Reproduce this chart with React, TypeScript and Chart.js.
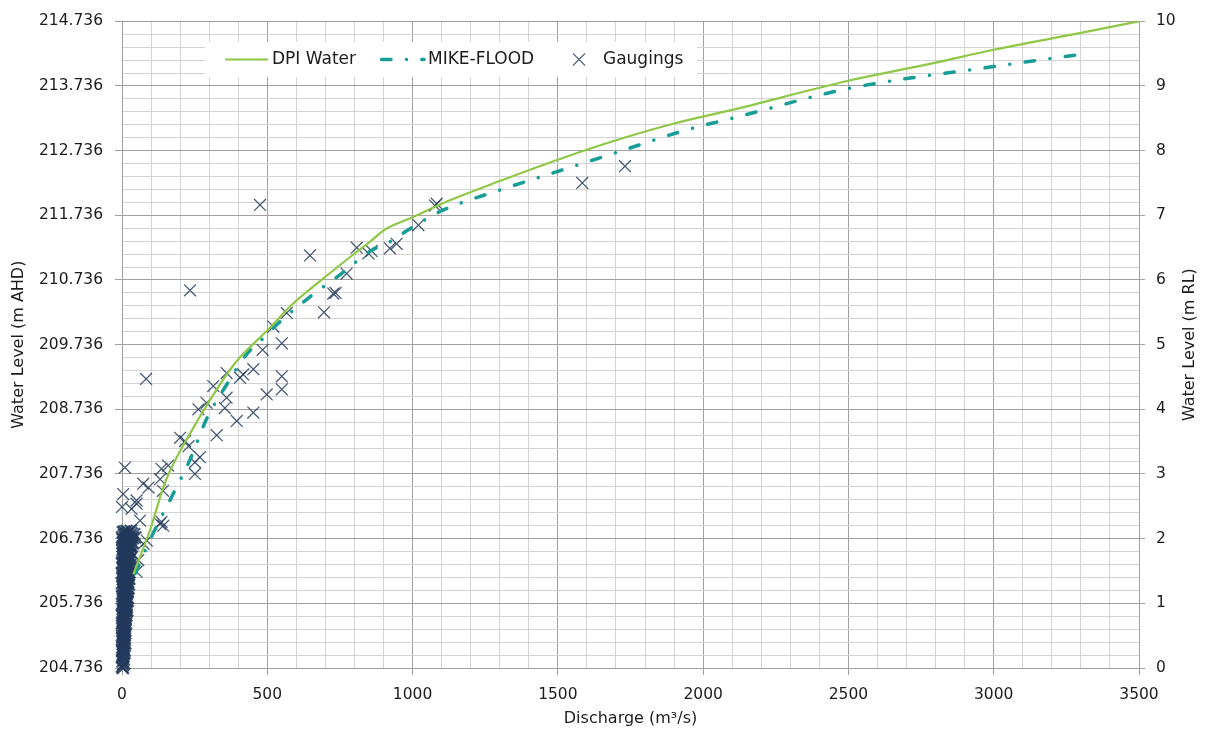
import React, { useEffect, useRef } from 'react';
import { Chart, registerables } from 'chart.js';

Chart.register(...registerables);

// ---- Axis labels ----
const xTickLabels = ['0', '500', '1000', '1500', '2000', '2500', '3000', '3500'];
const leftTickLabels = ['204.736', '205.736', '206.736', '207.736', '208.736', '209.736', '210.736', '211.736', '212.736', '213.736', '214.736'];
const rightTickLabels = ['0', '1', '2', '3', '4', '5', '6', '7', '8', '9', '10'];
const RL_DATUM_AHD = 204.736;

// ---- DPI Water rating curve (discharge m3/s, level m RL) ----
const dpiDischarge = [39, 96, 151, 240, 338, 390, 509, 578, 692, 795, 853, 905, 1000, 1100, 1300, 1500, 1700, 1900, 2100, 2500, 2800, 3000, 3300, 3500];
const dpiLevel = [1.45, 2.13, 2.9, 3.67, 4.39, 4.72, 5.26, 5.59, 6.02, 6.39, 6.59, 6.78, 6.97, 7.18, 7.53, 7.86, 8.16, 8.42, 8.63, 9.08, 9.36, 9.56, 9.82, 10.0];

// ---- MIKE-FLOOD rating curve ----
const mikeDischarge = [45, 108, 177, 234, 291, 360, 429, 486, 538, 647, 750, 859, 922, 980, 1100, 1300, 1500, 1700, 1950, 2100, 2500, 3000, 3300];
const mikeLevel = [1.46, 2.09, 2.7, 3.22, 3.85, 4.38, 4.85, 5.1, 5.33, 5.74, 6.08, 6.46, 6.59, 6.76, 7.07, 7.39, 7.68, 7.97, 8.33, 8.5, 8.96, 9.3, 9.49];

// ---- Gaugings: higher flows ----
const gaugingDischarge = [475, 234, 83, 1584, 1731, 1077, 1083, 1020, 945, 922, 859, 848, 808, 647, 773, 727, 735, 695, 567, 521, 550, 484, 452, 417, 360, 550, 550, 498, 360, 314, 291, 263, 354, 452, 395, 406, 326, 200, 217, 229, 268, 251, 251, 159, 136, 131, 141, 10, 73, 91, 4, 50, 0, 50, 62, 136, 142, 85, 74, 56, 50, 33, 131];
const gaugingLevel = [7.16, 5.84, 4.47, 7.5, 7.76, 7.15, 7.18, 6.85, 6.56, 6.49, 6.45, 6.41, 6.5, 6.38, 6.1, 5.79, 5.8, 5.5, 5.49, 5.28, 5.02, 4.92, 4.62, 4.54, 4.56, 4.51, 4.31, 4.23, 4.18, 4.36, 4.1, 4.0, 4.02, 3.95, 3.82, 4.49, 3.6, 3.56, 3.51, 3.43, 3.26, 3.18, 3.0, 3.13, 3.08, 2.92, 2.74, 3.1, 2.85, 2.79, 2.69, 2.59, 2.49, 2.54, 2.28, 2.26, 2.2, 1.97, 1.92, 1.67, 1.49, 2.46, 2.23];

// ---- Gaugings: low-flow cluster ----
const lowFlowDischarge = [
  0, 4, 2, 6, 1, 8, 3, 5, 1, 9,
  3, 7, 0, 5, 9, 3, 7, 11,
  2, 6, 10, 0, 4, 8, 1, 5, 9, 12, 2, 6,
  1, 5, 11, 3, 8, 13, 9, 14, 0, 6, 11, 3, 8, 15,
  0, 6, 10, 15, 2, 8, 13, 17, 18, 4, 11, 0, 6, 16,
  4, 9, 14, 19, 1, 7, 12, 17, 11, 21, 3, 15, 9, 20, 5,
  3, 8, 13, 18, 22, 0, 5, 11, 16, 21, 24, 14, 1, 10, 19, 25, 4,
  2, 7, 12, 17, 23, 4, 9, 15, 20, 25, 0, 26, 11, 18, 6, 13, 22, 28, 1,
  0, 6, 11, 16, 22, 27, 3, 8, 14, 19, 25, 10, 19, 30, 5, 1, 12, 23, 32, 17, 7,
  1, 6, 12, 17, 23, 30, 4, 9, 15, 21, 27, 36, 3, 14, 26, 34, 19, 10, 2, 24, 31, 38,
  0, 6, 12, 18, 25, 33, 8, 16, 42, 22, 3, 30, 14, 46,
];
const lowFlowLevel = [
  0.02, 0.05, 0.1, 0.13, 0.16, 0.07, 0.0, 0.18, 0.26, 0.27,
  0.21, 0.24, 0.28, 0.31, 0.34, 0.37, 0.39, 0.38,
  0.41, 0.44, 0.46, 0.5, 0.53, 0.56, 0.47, 0.48, 0.51, 0.58, 0.57, 0.59,
  0.61, 0.63, 0.66, 0.71, 0.73, 0.76, 0.64, 0.69, 0.69, 0.7, 0.78, 0.79, 0.79, 0.81,
  0.81, 0.84, 0.82, 0.87, 0.91, 0.93, 0.96, 0.94, 0.89, 0.88, 0.9, 0.99, 0.98, 0.99,
  1.02, 1.0, 1.05, 1.03, 1.11, 1.13, 1.1, 1.15, 1.07, 1.08, 1.07, 1.09, 1.17, 1.18, 1.18,
  1.21, 1.24, 1.2, 1.26, 1.23, 1.31, 1.33, 1.3, 1.35, 1.32, 1.29, 1.28, 1.26, 1.37, 1.39, 1.38, 1.38,
  1.42, 1.44, 1.41, 1.46, 1.43, 1.52, 1.54, 1.51, 1.56, 1.53, 1.47, 1.48, 1.49, 1.5, 1.58, 1.59, 1.6, 1.59, 1.55,
  1.62, 1.64, 1.61, 1.66, 1.63, 1.67, 1.72, 1.74, 1.71, 1.76, 1.73, 1.68, 1.69, 1.7, 1.69, 1.77, 1.79, 1.79, 1.78, 1.8, 1.79,
  1.82, 1.85, 1.81, 1.86, 1.83, 1.87, 1.93, 1.91, 1.95, 1.92, 1.96, 1.94, 1.88, 1.89, 1.9, 1.88, 1.9, 1.98, 1.99, 2.0, 1.99, 2.01,
  2.02, 2.05, 2.01, 2.06, 2.03, 2.08, 2.11, 2.12, 2.07, 2.1, 2.1, 2.12, 2.07, 2.02,
];

const GREEN = '#8fc746';
const TEAL = '#179d98';
const CROSS = 'rgba(34,58,92,0.85)';
const MAJOR_GRID = '#a0a0a0';
const MINOR_GRID = '#d3d3d3';
const TEXT = '#1c1c1c';
const FONT = 'DejaVu Sans';
const TEAL_DASH = [9.5, 15.5, 0.01, 15.5];

const toPoints = (xs: number[], ys: number[]) => xs.map((x, i) => ({ x, y: ys[i] }));

const overlayPlugin = {
  id: 'overlay',
  afterDraw(chart: any) {
    const ctx: CanvasRenderingContext2D = chart.ctx;
    const area = chart.chartArea;
    const ds = chart.data.datasets;
    ctx.save();
    // legend box
    const bx = 205, by = 42, bw = 492, bh = 35;
    const cy = by + bh / 2;
    ctx.fillStyle = '#ffffff';
    ctx.fillRect(bx, by, bw, bh);
    ctx.font = `17px "${FONT}"`;
    ctx.textBaseline = 'middle';
    ctx.textAlign = 'left';
    // DPI Water
    ctx.strokeStyle = ds[0].borderColor;
    ctx.lineWidth = ds[0].borderWidth;
    ctx.beginPath();
    ctx.moveTo(225, cy);
    ctx.lineTo(268, cy);
    ctx.stroke();
    ctx.fillStyle = TEXT;
    ctx.fillText(ds[0].label, 272, cy);
    // MIKE-FLOOD
    ctx.strokeStyle = ds[1].borderColor;
    ctx.lineWidth = ds[1].borderWidth;
    ctx.lineCap = 'round';
    ctx.setLineDash(ds[1].borderDash);
    ctx.beginPath();
    ctx.moveTo(381.5, cy);
    ctx.lineTo(424, cy);
    ctx.stroke();
    ctx.setLineDash([]);
    ctx.beginPath();
    ctx.arc(422, cy, 1.7, 0, Math.PI * 2);
    ctx.fillStyle = ds[1].borderColor;
    ctx.fill();
    ctx.fillStyle = TEXT;
    ctx.fillText(ds[1].label, 428, cy);
    // Gaugings
    ctx.strokeStyle = 'rgba(70,88,118,0.9)';
    ctx.lineWidth = 1.2;
    ctx.lineCap = 'butt';
    const s = 6;
    ctx.beginPath();
    ctx.moveTo(579 - s, cy - s);
    ctx.lineTo(579 + s, cy + s);
    ctx.moveTo(579 - s, cy + s);
    ctx.lineTo(579 + s, cy - s);
    ctx.stroke();
    ctx.fillStyle = TEXT;
    ctx.fillText(ds[2].label, 603, cy);
    // right axis title (reads bottom-to-top)
    ctx.font = `16px "${FONT}"`;
    ctx.textAlign = 'center';
    ctx.translate(1190, (area.top + area.bottom) / 2);
    ctx.rotate(-Math.PI / 2);
    ctx.fillText('Water Level (m RL)', 0, 0);
    ctx.restore();
  },
};

export default function App() {
  const canvasRef = useRef<HTMLCanvasElement | null>(null);

  useEffect(() => {
    if (!canvasRef.current) return;
    const majorOrMinor = (ctx: any) => (ctx.index % 5 === 0 ? MAJOR_GRID : MINOR_GRID);
    const tickMark = (ctx: any) => (ctx.index % 5 === 0 ? MAJOR_GRID : 'rgba(0,0,0,0)');
    const nHigh = gaugingDischarge.length;
    const chart = new Chart(canvasRef.current, {
      type: 'scatter',
      data: {
        datasets: [
          {
            label: 'DPI Water',
            data: toPoints(dpiDischarge, dpiLevel),
            showLine: true,
            borderColor: GREEN,
            backgroundColor: GREEN,
            borderWidth: 2.2,
            pointRadius: 0,
            cubicInterpolationMode: 'monotone',
            yAxisID: 'yR',
            order: 1,
          },
          {
            label: 'MIKE-FLOOD',
            data: toPoints(mikeDischarge, mikeLevel),
            showLine: true,
            borderColor: TEAL,
            backgroundColor: TEAL,
            borderWidth: 3.5,
            borderDash: TEAL_DASH,
            borderCapStyle: 'round',
            pointRadius: 0,
            cubicInterpolationMode: 'monotone',
            yAxisID: 'yR',
            order: 2,
          },
          {
            label: 'Gaugings',
            data: [...toPoints(gaugingDischarge, gaugingLevel), ...toPoints(lowFlowDischarge, lowFlowLevel)],
            showLine: false,
            pointStyle: 'crossRot',
            pointRadius: 8.4,
            pointBorderWidth: (c: any) => (c.dataIndex >= nHigh ? 2.2 : 1.25),
            borderColor: CROSS,
            backgroundColor: CROSS,
            yAxisID: 'yR',
            clip: false,
            order: 3,
          },
        ],
      },
      options: {
        responsive: false,
        animation: false,
        events: [],
        layout: { padding: { top: 18, left: 0, right: 0, bottom: 0 } },
        plugins: { legend: { display: false }, tooltip: { enabled: false } },
        scales: {
          x: {
            type: 'linear',
            position: 'bottom',
            min: 0,
            max: 3500,
            afterBuildTicks: (scale: any) => {
              scale.ticks = Array.from({ length: 36 }, (_, i) => ({ value: i * 100 }));
            },
            afterFit: (scale: any) => {
              scale.height = 68;
            },
            ticks: {
              autoSkip: false,
              maxRotation: 0,
              padding: 11,
              color: TEXT,
              font: { family: FONT, size: 15.5 },
              callback: (_v: any, i: number) => (i % 5 === 0 ? xTickLabels[i / 5] : ''),
            },
            grid: { color: majorOrMinor, tickColor: tickMark, tickLength: 7, lineWidth: 1 },
            border: { color: MAJOR_GRID },
            title: {
              display: true,
              text: 'Discharge (m³/s)',
              color: TEXT,
              font: { family: FONT, size: 16 },
              padding: { top: 0, bottom: 8 },
            },
          },
          yL: {
            type: 'linear',
            position: 'left',
            min: RL_DATUM_AHD,
            max: RL_DATUM_AHD + 10,
            afterBuildTicks: (scale: any) => {
              scale.ticks = Array.from({ length: 51 }, (_, i) => ({ value: RL_DATUM_AHD + i * 0.2 }));
            },
            afterFit: (scale: any) => {
              scale.width = 122;
            },
            ticks: {
              autoSkip: false,
              padding: 12,
              color: TEXT,
              font: { family: FONT, size: 15.5 },
              callback: (_v: any, i: number) => (i % 5 === 0 ? leftTickLabels[i / 5] : ''),
            },
            grid: { color: majorOrMinor, tickColor: tickMark, tickLength: 7, lineWidth: 1 },
            border: { color: MAJOR_GRID },
            title: {
              display: true,
              text: 'Water Level (m AHD)',
              color: TEXT,
              font: { family: FONT, size: 16 },
              padding: { top: 9, bottom: 0 },
            },
          },
          yR: {
            type: 'linear',
            position: 'right',
            min: 0,
            max: 10,
            afterBuildTicks: (scale: any) => {
              scale.ticks = Array.from({ length: 51 }, (_, i) => ({ value: i * 0.2 }));
            },
            afterFit: (scale: any) => {
              scale.width = 70;
            },
            ticks: {
              autoSkip: false,
              padding: 11,
              color: TEXT,
              font: { family: FONT, size: 15.5 },
              callback: (_v: any, i: number) => (i % 5 === 0 ? rightTickLabels[i / 5] : ''),
            },
            grid: { drawOnChartArea: false, color: majorOrMinor, tickColor: tickMark, tickLength: 6 },
            border: { color: MAJOR_GRID },
          },
        },
      },
      plugins: [overlayPlugin],
    } as any);
    return () => chart.destroy();
  }, []);

  return (
    <div style={{ position: 'absolute', left: 0, top: 0, width: 1209, height: 736, background: '#fff', overflow: 'hidden' }}>
      <canvas ref={canvasRef} width={1209} height={736} style={{ display: 'block' }} />
    </div>
  );
}
